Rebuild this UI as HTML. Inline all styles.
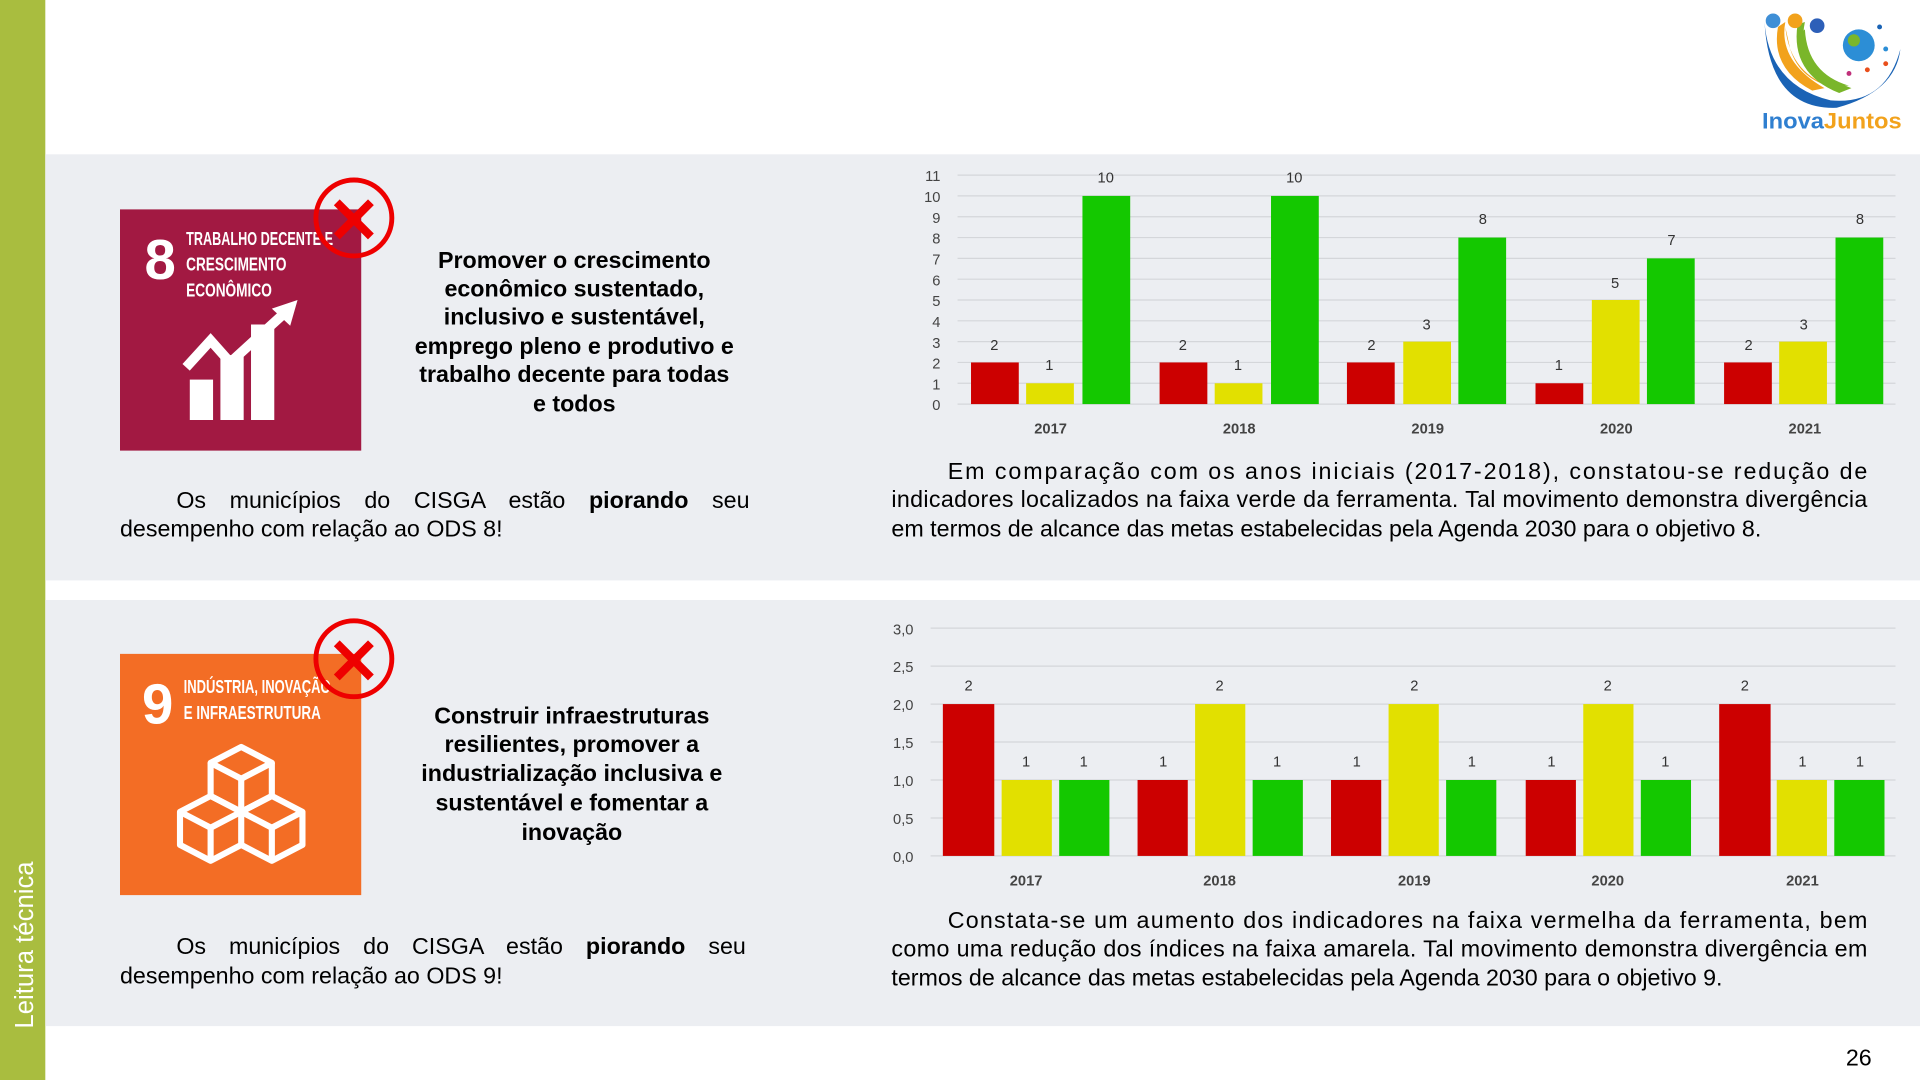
<!DOCTYPE html>
<html><head><meta charset="utf-8"><style>
html,body{margin:0;padding:0;background:#fff;width:1920px;height:1080px;overflow:hidden}
svg{display:block}
text{font-family:"Liberation Sans",sans-serif}
</style></head><body>
<svg width="1920" height="1080" viewBox="0 0 1568 882" xmlns="http://www.w3.org/2000/svg">
<rect width="1568" height="882" fill="#fff"/>
<rect x="0" y="0" width="37" height="882" fill="#a9bd3f"/>
<text transform="translate(27,840) rotate(-90)" font-size="21" fill="#fff">Leitura técnica</text>
<rect x="37" y="126" width="1531" height="348" fill="#eceef2"/>
<rect x="37" y="490" width="1531" height="348" fill="#eceef2"/>
<text x="1518" y="870" font-size="19" fill="#000" text-anchor="middle">26</text>
<!-- logo -->
<path d="M1441 18 Q1445 70 1495 82 Q1540 86 1552 40 Q1548 75 1500 88 Q1445 90 1441 18 Z" fill="#1a63b5"/>
<path d="M1458 22 Q1462 62 1500 72 Q1470 66 1462 40 Z" fill="#f2a21c"/>
<path d="M1474 24 Q1476 60 1510 70 Q1480 70 1470 45 Q1466 30 1474 24 Z" fill="#7ab62a"/>
<path d="M1458 18 Q1452 50 1490 72 L1480 74 Q1446 56 1452 22 Z" fill="#f2a21c"/>
<path d="M1474 18 Q1466 55 1512 72 L1502 76 Q1462 60 1468 20 Z" fill="#7ab62a"/>
<circle cx="1448" cy="17" r="6" fill="#3f8fd6"/><circle cx="1466" cy="17" r="6" fill="#f2a21c"/><circle cx="1484" cy="21" r="6" fill="#2d5fb8"/>
<circle cx="1518" cy="37" r="13" fill="#2c8ed6"/><circle cx="1514" cy="33" r="5" fill="#7ab62a"/>
<circle cx="1535" cy="22" r="2" fill="#1a63b5"/><circle cx="1540" cy="52" r="2" fill="#e94e1b"/><circle cx="1525" cy="57" r="2" fill="#e94e1b"/><circle cx="1510" cy="60" r="2" fill="#c0307a"/><circle cx="1540" cy="40" r="2" fill="#2c8ed6"/>
<text x="1439" y="105" font-size="18" font-weight="bold" fill="#2f7fd0" textLength="114" lengthAdjust="spacingAndGlyphs">Inova<tspan fill="#f2a21c">Juntos</tspan></text>
<!-- SDG 8 -->
<rect x="98" y="171" width="197" height="197" fill="#a21942"/>
<text x="118" y="228" font-size="46" font-weight="bold" fill="#fff">8</text>
<text x="152" y="200" font-size="15" font-weight="bold" fill="#fff" textLength="120" lengthAdjust="spacingAndGlyphs">TRABALHO DECENTE E</text>
<text x="152" y="221" font-size="15" font-weight="bold" fill="#fff" textLength="82" lengthAdjust="spacingAndGlyphs">CRESCIMENTO</text>
<text x="152" y="242" font-size="15" font-weight="bold" fill="#fff" textLength="70" lengthAdjust="spacingAndGlyphs">ECONÔMICO</text>
<g fill="#fff"><rect x="155" y="310" width="19" height="33"/><rect x="180" y="290" width="19" height="53"/><rect x="205" y="265" width="19" height="78"/></g>
<polyline points="152,300 172,278 188,296 232,256" fill="none" stroke="#fff" stroke-width="8"/>
<polygon points="243,245 222,252 237,266" fill="#fff"/>
<circle cx="289" cy="178" r="31" fill="none" stroke="#e00" stroke-width="4"/>
<text x="289" y="198" font-size="52" font-weight="bold" fill="#e00" text-anchor="middle">✕</text>
<g font-size="19" font-weight="bold" text-anchor="middle" fill="#000">
<text x="469" y="219">Promover o crescimento</text>
<text x="469" y="242">econômico sustentado,</text>
<text x="469" y="265">inclusivo e sustentável,</text>
<text x="469" y="289">emprego pleno e produtivo e</text>
<text x="469" y="312">trabalho decente para todas</text>
<text x="469" y="336">e todos</text>
</g>
<text x="144" y="415" font-size="19" word-spacing="14">Os municípios do CISGA estão <tspan font-weight="bold">piorando</tspan> seu</text>
<text x="98" y="438" font-size="19">desempenho com relação ao ODS 8!</text>
<!-- SDG 9 -->
<rect x="98" y="534" width="197" height="197" fill="#f36d25"/>
<text x="116" y="591" font-size="46" font-weight="bold" fill="#fff">9</text>
<text x="150" y="566" font-size="15" font-weight="bold" fill="#fff" textLength="120" lengthAdjust="spacingAndGlyphs">INDÚSTRIA, INOVAÇÃO</text>
<text x="150" y="587" font-size="15" font-weight="bold" fill="#fff" textLength="112" lengthAdjust="spacingAndGlyphs">E INFRAESTRUTURA</text>
<g fill="none" stroke="#fff" stroke-width="5" stroke-linejoin="round">
<polygon points="197,610 222,623 197,636 172,623"/><polyline points="172,623 172,650 197,663 222,650 222,623"/><line x1="197" y1="636" x2="197" y2="663"/>
<polygon points="172,650 197,663 172,676 147,663"/><polyline points="147,663 147,690 172,703 197,690 197,663"/><line x1="172" y1="676" x2="172" y2="703"/>
<polygon points="222,650 247,663 222,676 197,663"/><polyline points="247,663 247,690 222,703 197,690"/><line x1="222" y1="676" x2="222" y2="703"/>
</g>
<circle cx="289" cy="538" r="31" fill="none" stroke="#e00" stroke-width="4"/>
<text x="289" y="558" font-size="52" font-weight="bold" fill="#e00" text-anchor="middle">✕</text>
<g font-size="19" font-weight="bold" text-anchor="middle" fill="#000">
<text x="467" y="591">Construir infraestruturas</text>
<text x="467" y="614">resilientes, promover a</text>
<text x="467" y="638">industrialização inclusiva e</text>
<text x="467" y="662">sustentável e fomentar a</text>
<text x="467" y="686">inovação</text>
</g>
<text x="144" y="779" font-size="19" word-spacing="13.5">Os municípios do CISGA estão <tspan font-weight="bold">piorando</tspan> seu</text>
<text x="98" y="803" font-size="19">desempenho com relação ao ODS 9!</text>
<!-- Chart 1 -->
<g stroke="#d4d6da" stroke-width="1">
<line x1="782" x2="1548" y1="143" y2="143"/><line x1="782" x2="1548" y1="160" y2="160"/><line x1="782" x2="1548" y1="177" y2="177"/><line x1="782" x2="1548" y1="194" y2="194"/><line x1="782" x2="1548" y1="211" y2="211"/><line x1="782" x2="1548" y1="228" y2="228"/><line x1="782" x2="1548" y1="245" y2="245"/><line x1="782" x2="1548" y1="262" y2="262"/><line x1="782" x2="1548" y1="279" y2="279"/><line x1="782" x2="1548" y1="296" y2="296"/><line x1="782" x2="1548" y1="313" y2="313"/><line x1="782" x2="1548" y1="330" y2="330"/>
</g>
<g font-size="12" fill="#444" text-anchor="end">
<text x="768" y="148">11</text><text x="768" y="165">10</text><text x="768" y="182">9</text><text x="768" y="199">8</text><text x="768" y="216">7</text><text x="768" y="233">6</text><text x="768" y="250">5</text><text x="768" y="267">4</text><text x="768" y="284">3</text><text x="768" y="301">2</text><text x="768" y="318">1</text><text x="768" y="335">0</text>
</g>
<g>
<rect x="793" y="296" width="39" height="34" fill="#cc0000"/><rect x="838" y="313" width="39" height="17" fill="#e2e000"/><rect x="884" y="160" width="39" height="170" fill="#14c800"/>
<rect x="947" y="296" width="39" height="34" fill="#cc0000"/><rect x="992" y="313" width="39" height="17" fill="#e2e000"/><rect x="1038" y="160" width="39" height="170" fill="#14c800"/>
<rect x="1100" y="296" width="39" height="34" fill="#cc0000"/><rect x="1146" y="279" width="39" height="51" fill="#e2e000"/><rect x="1191" y="194" width="39" height="136" fill="#14c800"/>
<rect x="1254" y="313" width="39" height="17" fill="#cc0000"/><rect x="1300" y="245" width="39" height="85" fill="#e2e000"/><rect x="1345" y="211" width="39" height="119" fill="#14c800"/>
<rect x="1408" y="296" width="39" height="34" fill="#cc0000"/><rect x="1453" y="279" width="39" height="51" fill="#e2e000"/><rect x="1499" y="194" width="39" height="136" fill="#14c800"/>
</g>
<g font-size="12" fill="#333" text-anchor="middle">
<text x="812" y="286">2</text><text x="857" y="302">1</text><text x="903" y="149">10</text>
<text x="966" y="286">2</text><text x="1011" y="302">1</text><text x="1057" y="149">10</text>
<text x="1120" y="286">2</text><text x="1165" y="269">3</text><text x="1211" y="183">8</text>
<text x="1273" y="302">1</text><text x="1319" y="235">5</text><text x="1365" y="200">7</text>
<text x="1428" y="286">2</text><text x="1473" y="269">3</text><text x="1519" y="183">8</text>
</g>
<g font-size="12" font-weight="bold" fill="#444" text-anchor="middle">
<text x="858" y="354">2017</text><text x="1012" y="354">2018</text><text x="1166" y="354">2019</text><text x="1320" y="354">2020</text><text x="1474" y="354">2021</text>
</g>
<g font-size="19" fill="#000">
<text x="774" y="391" textLength="751" lengthAdjust="spacing">Em comparação com os anos iniciais (2017-2018), constatou-se redução de</text>
<text x="728" y="414" textLength="797" lengthAdjust="spacing">indicadores localizados na faixa verde da ferramenta. Tal movimento demonstra divergência</text>
<text x="728" y="438">em termos de alcance das metas estabelecidas pela Agenda 2030 para o objetivo 8.</text>
</g>
<!-- Chart 2 -->
<g stroke="#d4d6da" stroke-width="1">
<line x1="760" x2="1548" y1="513" y2="513"/><line x1="760" x2="1548" y1="544" y2="544"/><line x1="760" x2="1548" y1="575" y2="575"/><line x1="760" x2="1548" y1="606" y2="606"/><line x1="760" x2="1548" y1="637" y2="637"/><line x1="760" x2="1548" y1="668" y2="668"/><line x1="760" x2="1548" y1="699" y2="699"/>
</g>
<g font-size="12" fill="#444" text-anchor="end">
<text x="746" y="518">3,0</text><text x="746" y="549">2,5</text><text x="746" y="580">2,0</text><text x="746" y="611">1,5</text><text x="746" y="642">1,0</text><text x="746" y="673">0,5</text><text x="746" y="704">0,0</text>
</g>
<g>
<rect x="770" y="575" width="42" height="124" fill="#cc0000"/><rect x="818" y="637" width="41" height="62" fill="#e2e000"/><rect x="865" y="637" width="41" height="62" fill="#14c800"/>
<rect x="929" y="637" width="41" height="62" fill="#cc0000"/><rect x="976" y="575" width="41" height="124" fill="#e2e000"/><rect x="1023" y="637" width="41" height="62" fill="#14c800"/>
<rect x="1087" y="637" width="41" height="62" fill="#cc0000"/><rect x="1134" y="575" width="41" height="124" fill="#e2e000"/><rect x="1181" y="637" width="41" height="62" fill="#14c800"/>
<rect x="1246" y="637" width="41" height="62" fill="#cc0000"/><rect x="1293" y="575" width="41" height="124" fill="#e2e000"/><rect x="1340" y="637" width="41" height="62" fill="#14c800"/>
<rect x="1404" y="575" width="42" height="124" fill="#cc0000"/><rect x="1451" y="637" width="41" height="62" fill="#e2e000"/><rect x="1498" y="637" width="41" height="62" fill="#14c800"/>
</g>
<g font-size="12" fill="#333" text-anchor="middle">
<text x="791" y="564">2</text><text x="838" y="626">1</text><text x="885" y="626">1</text>
<text x="950" y="626">1</text><text x="996" y="564">2</text><text x="1043" y="626">1</text>
<text x="1108" y="626">1</text><text x="1155" y="564">2</text><text x="1202" y="626">1</text>
<text x="1267" y="626">1</text><text x="1313" y="564">2</text><text x="1360" y="626">1</text>
<text x="1425" y="564">2</text><text x="1472" y="626">1</text><text x="1519" y="626">1</text>
</g>
<g font-size="12" font-weight="bold" fill="#444" text-anchor="middle">
<text x="838" y="723">2017</text><text x="996" y="723">2018</text><text x="1155" y="723">2019</text><text x="1313" y="723">2020</text><text x="1472" y="723">2021</text>
</g>
<g font-size="19" fill="#000">
<text x="774" y="758" textLength="751" lengthAdjust="spacing">Constata-se um aumento dos indicadores na faixa vermelha da ferramenta, bem</text>
<text x="728" y="781" textLength="797" lengthAdjust="spacing">como uma redução dos índices na faixa amarela. Tal movimento demonstra divergência em</text>
<text x="728" y="805">termos de alcance das metas estabelecidas pela Agenda 2030 para o objetivo 9.</text>
</g>
</svg>
</body></html>
